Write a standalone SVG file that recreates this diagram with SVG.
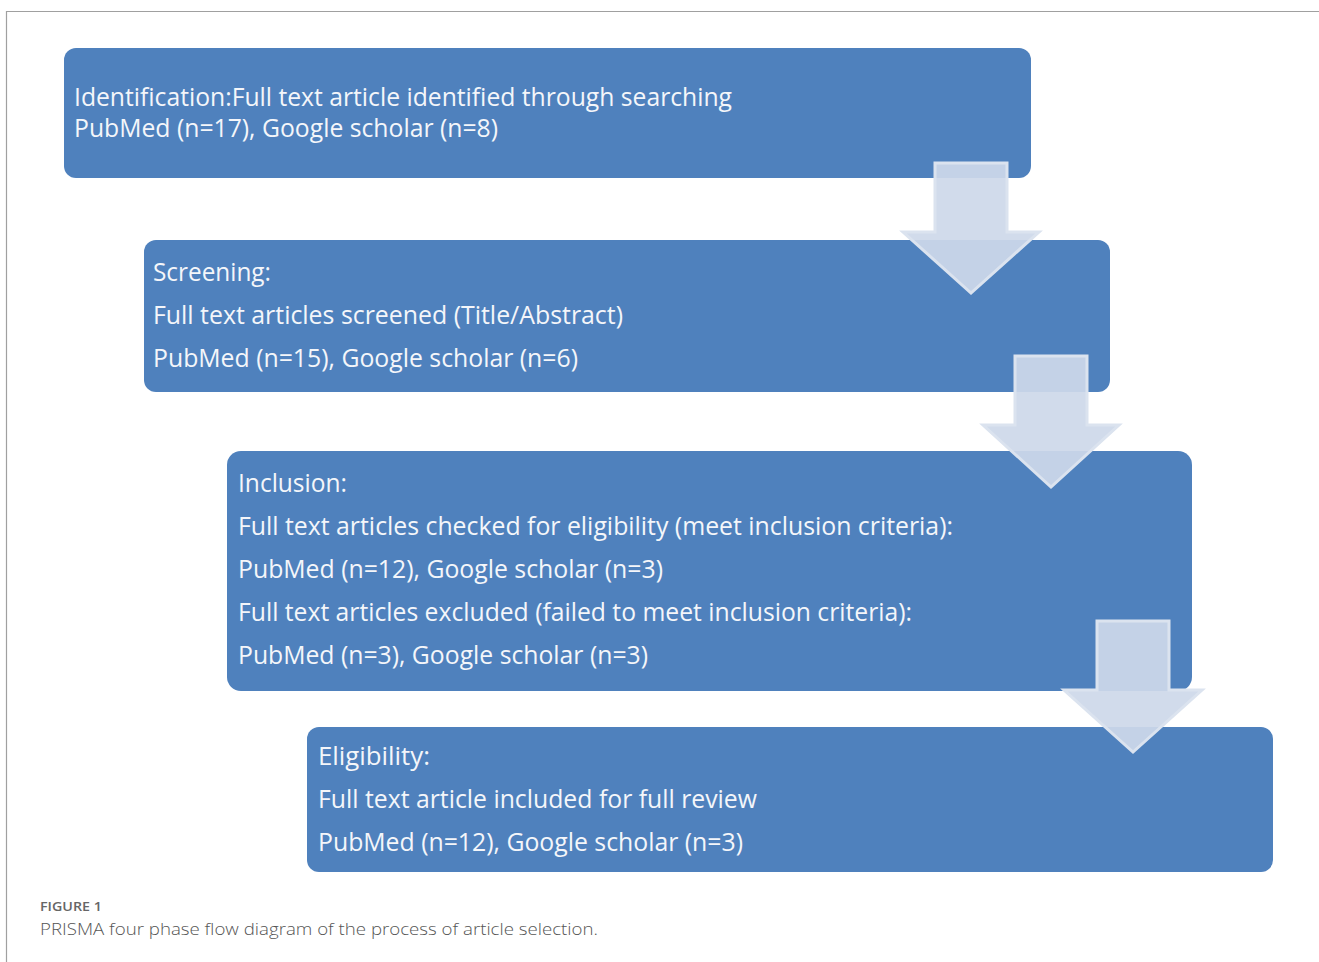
<svg xmlns="http://www.w3.org/2000/svg" width="1319" height="962" viewBox="0 0 1319 962">
  <defs>
    <style>
      .box { fill: #4f81bd; }
      .lbl { font-family: "Open Sans", "Liberation Sans", sans-serif; font-size: 26px; font-weight: 500; fill: #f4f6fa; }
      .arrow { fill: #cdd8e9; fill-opacity: 0.93; stroke: #dbe3ef; stroke-width: 3; stroke-linejoin: miter; }
      .cap-h { font-family: "Open Sans", "Liberation Sans", sans-serif; font-size: 13px; font-weight: 600; fill: #666; }
      .cap { font-family: "Open Sans", "Liberation Sans", sans-serif; font-size: 17px; font-weight: 300; fill: #555; }
    </style>
  </defs>
  <rect width="1319" height="962" fill="#ffffff"/>
  <!-- frame -->
  <path d="M6.5 962 V11.5 H1319" fill="none" stroke="#a0a0a0" stroke-width="1.2"/>

  <g id="identification">
    <rect class="box" x="64" y="48" width="967" height="130" rx="12"/>
    <text class="lbl" x="74" y="106" textLength="658" lengthAdjust="spacingAndGlyphs">Identification:Full text article identified through searching</text>
    <text class="lbl" x="74" y="137" textLength="424" lengthAdjust="spacingAndGlyphs">PubMed (n=17), Google scholar (n=8)</text>
  </g>

  <g id="screening">
    <rect class="box" x="144" y="240" width="966" height="152" rx="12"/>
    <text class="lbl" x="153" y="281" textLength="118" lengthAdjust="spacingAndGlyphs">Screening:</text>
    <text class="lbl" x="153" y="324" textLength="470" lengthAdjust="spacingAndGlyphs">Full text articles screened (Title/Abstract)</text>
    <text class="lbl" x="153" y="367" textLength="425" lengthAdjust="spacingAndGlyphs">PubMed (n=15), Google scholar (n=6)</text>
  </g>

  <g id="inclusion">
    <rect class="box" x="227" y="451" width="965" height="240" rx="14"/>
    <text class="lbl" x="238" y="492" textLength="109" lengthAdjust="spacingAndGlyphs">Inclusion:</text>
    <text class="lbl" x="238" y="535" textLength="715" lengthAdjust="spacingAndGlyphs">Full text articles checked for eligibility (meet inclusion criteria):</text>
    <text class="lbl" x="238" y="578" textLength="425" lengthAdjust="spacingAndGlyphs">PubMed (n=12), Google scholar (n=3)</text>
    <text class="lbl" x="238" y="621" textLength="674" lengthAdjust="spacingAndGlyphs">Full text articles excluded (failed to meet inclusion criteria):</text>
    <text class="lbl" x="238" y="664" textLength="410" lengthAdjust="spacingAndGlyphs">PubMed (n=3), Google scholar (n=3)</text>
  </g>

  <g id="eligibility">
    <rect class="box" x="307" y="727" width="966" height="145" rx="12"/>
    <text class="lbl" x="318" y="765" textLength="112" lengthAdjust="spacingAndGlyphs">Eligibility:</text>
    <text class="lbl" x="318" y="808" textLength="439" lengthAdjust="spacingAndGlyphs">Full text article included for full review</text>
    <text class="lbl" x="318" y="851" textLength="425" lengthAdjust="spacingAndGlyphs">PubMed (n=12), Google scholar (n=3)</text>
  </g>

  <g id="connectors">
    <path class="arrow" d="M935 163 H1007 V232 H1039 L971 293 L903 232 H935 Z"/>
    <path class="arrow" d="M1015 356 H1087 V425 H1119 L1051 487 L983 425 H1015 Z"/>
    <path class="arrow" d="M1097 621 H1169 V690 H1202 L1133 752 L1064 690 H1097 Z"/>
  </g>

  <g id="caption">
    <text class="cap-h" x="40" y="911" textLength="62" lengthAdjust="spacingAndGlyphs">FIGURE 1</text>
    <text class="cap" x="40" y="935" textLength="558" lengthAdjust="spacingAndGlyphs">PRISMA four phase flow diagram of the process of article selection.</text>
  </g>
</svg>
